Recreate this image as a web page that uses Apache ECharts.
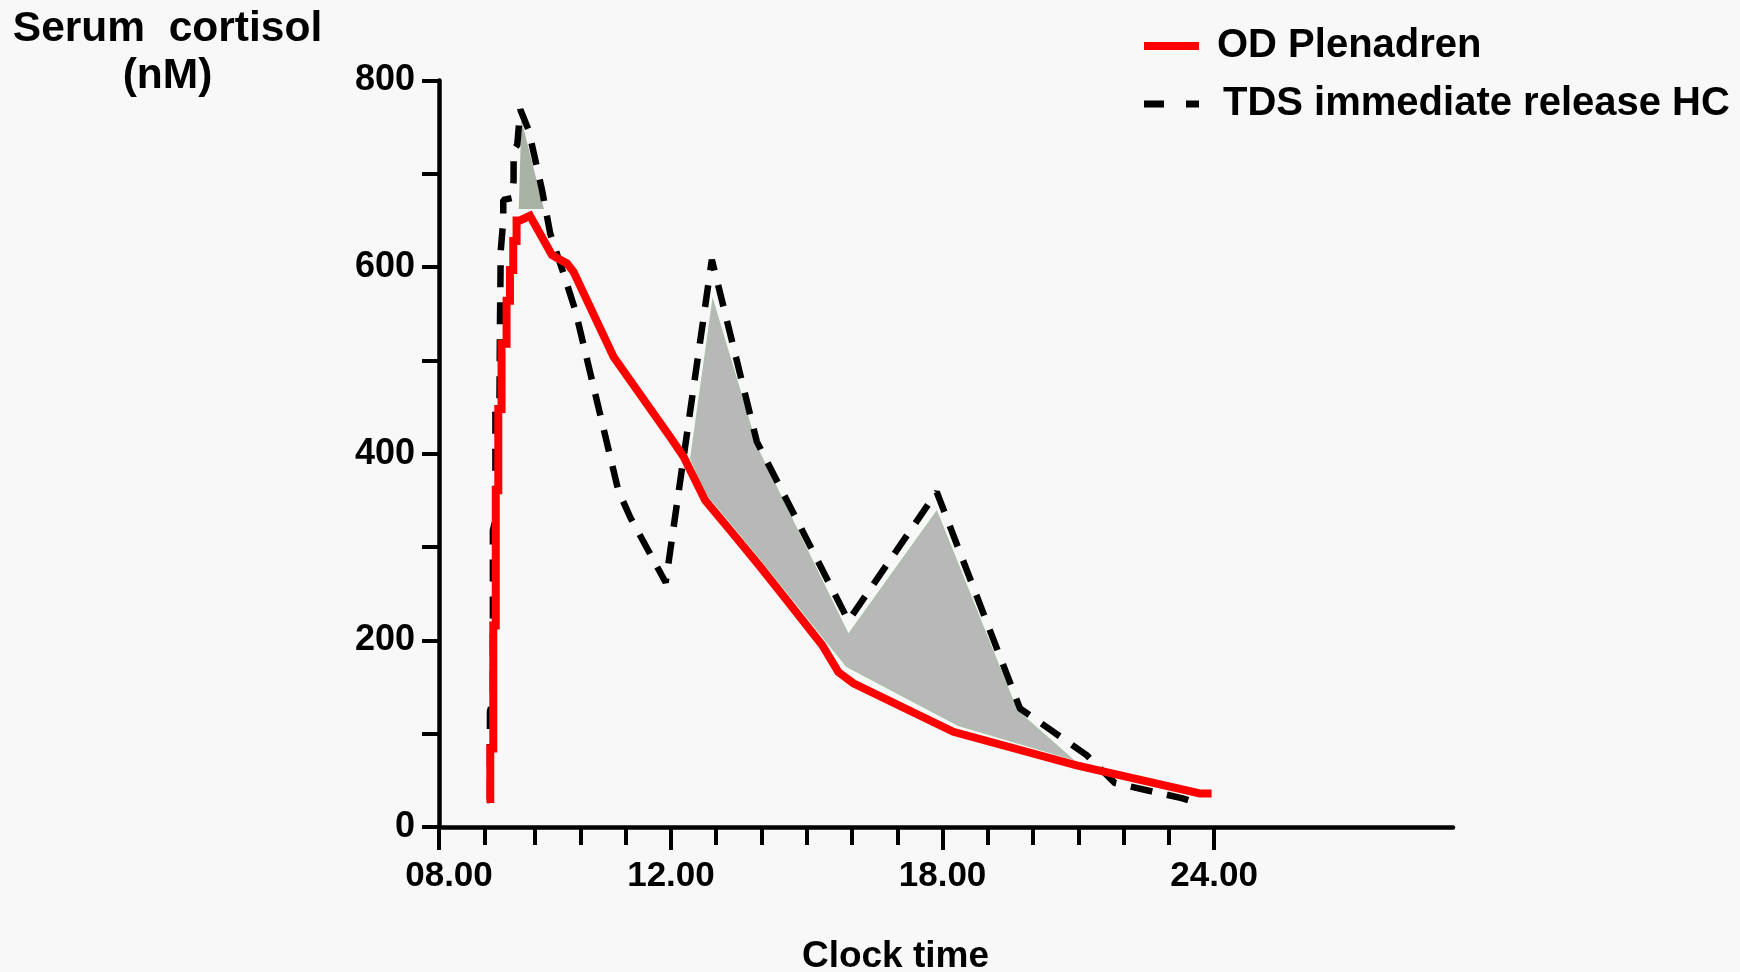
<!DOCTYPE html>
<html>
<head>
<meta charset="utf-8">
<script src="https://cdn.jsdelivr.net/npm/echarts@6/dist/echarts.min.js"></script>
<style>
html,body{margin:0;padding:0;background:#f8f8f8;}
#chart{width:1740px;height:972px;}
</style>
</head>
<body>
<div id="chart"></div>
<script>
// ---- data (clock hours, nM) ----
const odTime = [7.925, 8.007, 8.007, 8.073, 8.073, 8.128, 8.128, 8.184, 8.184, 8.256, 8.256, 8.367, 8.367, 8.442, 8.442, 8.515, 8.515, 8.588, 8.588, 8.663, 8.884, 9.370, 9.515, 9.701, 9.847, 10.730, 11.982, 12.276, 12.755, 13.307, 13.970, 14.559, 15.339, 15.699, 16.030, 18.239, 20.964, 23.687, 23.945];
const odCortisol = [30, 30, 84, 84, 216, 216, 361, 361, 448, 448, 518, 518, 564, 564, 597, 597, 628, 628, 650, 650, 655, 613, 609, 604, 595, 504, 418, 397, 350, 318, 279, 243, 195, 166, 154, 102, 66, 36, 36];

const tdsTime = [7.930, 8.000, 8.000, 8.065, 8.065, 8.120, 8.120, 8.210, 8.221, 8.239, 8.294, 8.294, 8.482, 8.522, 8.522, 8.603, 8.670, 8.853, 9.149, 9.332, 9.626, 9.884, 10.834, 11.099, 11.883, 12.903, 13.897, 15.920, 17.872, 19.712, 21.185, 21.810, 23.283, 23.678];
const tdsCortisol = [29, 29, 124, 136, 318, 329, 452, 457, 540, 618, 650, 672, 674, 693, 725, 731, 769, 747, 683, 636, 593, 554, 361, 332, 262, 608, 413, 221, 359, 127, 77, 47, 31, 25];

// shaded areas (polygon outlines)
const shadePeakTime = [8.707, 8.654, 9.171];
const shadePeakValue = [752, 663, 663];
const shadeTime = [12.439, 12.925, 13.897, 15.920, 17.872, 19.639, 20.854, 18.349, 15.885, 15.339, 14.566, 13.970, 13.307, 12.755];
const shadeValue = [395, 564, 407, 206, 338, 125, 73, 109, 172, 205, 252, 288, 327, 359];

// axes
const xMin = 6.874, xMax = 29.28;
const xTickValues = [6.874, 7.88, 9, 10, 11, 12, 13, 14, 15, 16, 17, 18, 19, 20, 21, 22, 23, 24];
const xMajorValues = [6.874, 12, 18, 24];
const xTickLabels = ['08.00', '12.00', '18.00', '24.00'];
const yTickValues = [0, 100, 200, 300, 400, 500, 600, 700, 800];
const yLabelValues = [0, 200, 400, 600, 800];

const FONT = '"Liberation Sans", Arial, Helvetica, sans-serif';

const zip = (a, b) => a.map((v, i) => [v, b[i]]);
const polygons = [
  { pts: zip(shadePeakTime, shadePeakValue), fill: '#a8b3a6', stroke: '#a8b3a6' },
  { pts: zip(shadeTime, shadeValue), fill: '#b8b8b8', stroke: '#aebfae' }
];

const chart = echarts.init(document.getElementById('chart'), null, { renderer: 'canvas' });
chart.setOption({
  backgroundColor: '#f8f8f8',
  animation: false,
  title: [
    { text: 'Serum  cortisol\n(nM)', left: 167.5, top: 5.5, textAlign: 'center', padding: 0,
      textStyle: { fontFamily: FONT, fontWeight: 'bold', fontSize: 42.5, lineHeight: 47, color: '#000' } },
    { text: 'Clock time', left: 895.5, top: 936.5, textAlign: 'center', padding: 0,
      textStyle: { fontFamily: FONT, fontWeight: 'bold', fontSize: 37, lineHeight: 40, color: '#000' } }
  ],
  legend: {
    orient: 'vertical', left: 1140, top: 26, padding: 0,
    itemWidth: 55, itemHeight: 40, itemGap: 18,
    itemStyle: { opacity: 0 },
    textStyle: { fontFamily: FONT, fontWeight: 'bold', fontSize: 40, lineHeight: 40, color: '#000' },
    data: [
      { name: 'OD Plenadren', textStyle: { padding: [0, 0, 0, 13] },
        lineStyle: { width: 8 } },
      { name: 'TDS immediate release HC', textStyle: { padding: [0, 0, 0, 19] },
        lineStyle: { type: [20, 22], width: 7 } }
    ]
  },
  grid: { left: 439, right: 287, top: 80.5, bottom: 145, containLabel: false },
  xAxis: [
    { type: 'value', min: xMin, max: xMax, position: 'bottom',
      axisLine: { show: true, onZero: false, lineStyle: { color: '#000', width: 4.5 } },
      axisTick: { show: true, customValues: xTickValues, length: 18, lineStyle: { color: '#000', width: 4 } },
      axisLabel: { show: false }, splitLine: { show: false } },
    { type: 'value', min: xMin, max: xMax, position: 'bottom',
      axisLine: { show: false, onZero: false },
      axisTick: { show: true, customValues: xMajorValues, length: 23, lineStyle: { color: '#000', width: 4 } },
      axisLabel: { show: true, customValues: xMajorValues, margin: 32,
        formatter: v => {
          const i = xMajorValues.findIndex(m => Math.abs(m - v) < 1e-6);
          const t = i >= 0 ? xTickLabels[i] : '';
          return i === 0 ? '{f|' + t + '}' : t;
        },
        rich: { f: { fontFamily: FONT, fontWeight: 'bold', fontSize: 35, color: '#000', padding: [0, 0, 0, 20] } },
        fontFamily: FONT, fontWeight: 'bold', fontSize: 35, color: '#000' },
      splitLine: { show: false } }
  ],
  yAxis: {
    type: 'value', min: 0, max: 800, interval: 100,
    axisLine: { show: true, onZero: false, lineStyle: { color: '#000', width: 4.5 } },
    axisTick: { show: true, customValues: yTickValues, length: 17, lineStyle: { color: '#000', width: 4 } },
    axisLabel: { show: true, customValues: yLabelValues, margin: 24,
      fontFamily: FONT, fontWeight: 'bold', fontSize: 36, color: '#000' },
    splitLine: { show: false }
  },
  series: [
    {
      type: 'custom', name: 'shade', xAxisIndex: 0, silent: true, z: 1,
      data: polygons.map((p, i) => [p.pts[0][0], p.pts[0][1], i]),
      encode: { x: 0, y: 1 },
      renderItem: (params, api) => {
        const p = polygons[api.value(2)];
        return {
          type: 'polygon',
          shape: { points: p.pts.map(pt => api.coord(pt)) },
          style: { fill: p.fill, stroke: p.stroke, lineWidth: 1.5 }
        };
      }
    },
    {
      type: 'line', name: 'TDS immediate release HC', xAxisIndex: 0, z: 3,
      data: zip(tdsTime, tdsCortisol), symbol: 'none', showSymbol: false,
      lineStyle: { color: '#000', width: 6.5, type: [22, 15], cap: 'butt' },
      itemStyle: { color: '#000' }
    },
    {
      type: 'line', name: 'OD Plenadren', xAxisIndex: 0, z: 4,
      data: zip(odTime, odCortisol), symbol: 'none', showSymbol: false,
      lineStyle: { color: '#ff0000', width: 8, join: 'miter' },
      itemStyle: { color: '#ff0000' }
    }
  ]
});
</script>
</body>
</html>
